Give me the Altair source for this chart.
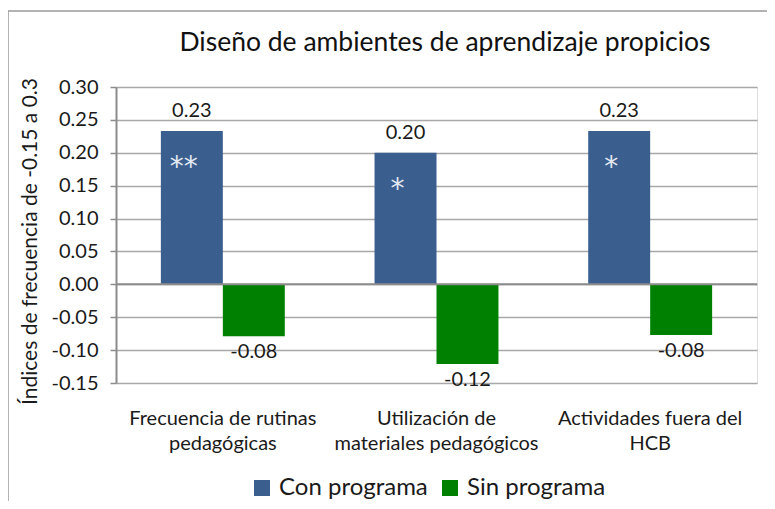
import altair as alt
import pandas as pd

categories = ["Frecuencia de rutinas\npedagógicas",
              "Utilización  de\nmateriales pedagógicos",
              "Actividades fuera del\nHCB"]
series = ["Con programa", "Sin programa"]
con_values = [0.233, 0.200, 0.233]
sin_values = [-0.079, -0.121, -0.077]
con_marks = ["**", "*", "*"]
y_ticks = [-0.15, -0.10, -0.05, 0.00, 0.05, 0.10, 0.15, 0.20, 0.25, 0.30]
colors = ["#3A5F8F", "#008000"]
title_text = "Diseño de ambientes de aprendizaje propicios"

rows = []
for c, v, m in zip(categories, con_values, con_marks):
    rows.append({"cat": c, "series": series[0], "value": v, "mark": m})
for c, v in zip(categories, sin_values):
    rows.append({"cat": c, "series": series[1], "value": v, "mark": ""})
df = pd.DataFrame(rows)

FONT = "Lato"
TXT = "#1a1a1a"
MINUS_FIX = "replace(format(datum.value, '.2f'), '\u2212', '-')"

x_enc = alt.X("cat:N", sort=categories,
              scale=alt.Scale(paddingInner=0.42, paddingOuter=0.21),
              axis=alt.Axis(title=None, labelExpr="split(datum.label, '\\n')",
                            labelAngle=0, domain=False, ticks=False, labelLimit=400,
                            labelFontSize=20, labelPadding=25, labelLineHeight=25,
                            labelColor=TXT, labelFont=FONT))
xo_enc = alt.XOffset("series:N", sort=series,
                     scale=alt.Scale(paddingInner=0, paddingOuter=0))
y_enc = alt.Y("value:Q",
              scale=alt.Scale(domain=[-0.15, 0.30], nice=False, zero=False),
              axis=alt.Axis(values=y_ticks, tickCount=len(y_ticks) + 2, format=".2f",
                            labelExpr="replace(datum.label, '\u2212', '-')",
                            labelOverlap=False, labelFlush=False,
                            title="Índices de frecuencia de -0.15 a 0.3",
                            titleX=-86, titleY=154, titleAngle=270,
                            titleAlign="center", titleBaseline="middle",
                            titleFontSize=21, titleFontWeight="normal",
                            titleFont=FONT, titleColor=TXT,
                            labelFontSize=20, labelFont=FONT, labelColor=TXT,
                            labelPadding=12, tickSize=6, tickColor="#8c8c8c",
                            tickWidth=1.5, domainColor="#8c8c8c", domainWidth=2,
                            grid=True, gridColor="#a8a8a8", gridWidth=1.5))

color_enc = alt.Color("series:N", sort=series,
                      scale=alt.Scale(domain=series, range=colors),
                      legend=alt.Legend(orient="none", legendX=134, legendY=389,
                                        direction="horizontal", title=None,
                                        symbolType="square", symbolSize=256,
                                        symbolStrokeWidth=0, labelFontSize=24,
                                        labelFont=FONT, labelColor=TXT,
                                        columnPadding=10, labelOffset=5))

base = alt.Chart(df)

bars = base.mark_bar().encode(x=x_enc, xOffset=xo_enc, y=y_enc, color=color_enc)

zero = alt.Chart(alt.Data(values=[{}])).mark_rule(color="#8c8c8c", strokeWidth=2).encode(
    y=alt.datum(0))

lab_pos = base.transform_filter(alt.datum.series == series[0]).transform_calculate(
    lbl=MINUS_FIX).mark_text(
    baseline="bottom", dy=-10, fontSize=20, font=FONT, color=TXT).encode(
    x=alt.X("cat:N", sort=categories), xOffset=alt.XOffset("series:N", sort=series),
    y="value:Q", text="lbl:N")

lab_neg = base.transform_filter(alt.datum.series == series[1]).transform_calculate(
    lbl=MINUS_FIX).mark_text(
    baseline="top", dy=6, fontSize=20, font=FONT, color=TXT).encode(
    x=alt.X("cat:N", sort=categories), xOffset=alt.XOffset("series:N", sort=series),
    y="value:Q", text="lbl:N")

stars = base.transform_filter(alt.datum.series == series[0]).mark_text(
    baseline="top", dy=23, dx=-8, fontSize=28, font="DejaVu Sans",
    color="#e4e9f2").encode(
    x=alt.X("cat:N", sort=categories), xOffset=alt.XOffset("series:N", sort=series),
    y="value:Q", text="mark:N")

one = alt.Data(values=[{}])
frame_left = alt.Chart(one).mark_rule(color="#9a9a9a", strokeWidth=1.5).encode(
    x=alt.value(-108), y=alt.value(-76), y2=alt.value(414))
frame_top = alt.Chart(one).mark_rule(color="#9a9a9a", strokeWidth=1.5).encode(
    x=alt.value(-108), x2=alt.value(651), y=alt.value(-76))
title = alt.Chart(one).mark_text(fontSize=26.5, font=FONT, color="#111",
                                 align="center", baseline="alphabetic").encode(
    x=alt.value(329), y=alt.value(-36), text=alt.value(title_text))

chart = alt.layer(bars, zero, lab_pos, lab_neg, stars, frame_left, frame_top, title).properties(
    width=641, height=296,
    autosize=alt.AutoSizeParams(type="none"),
    padding={"left": 108, "top": 79, "right": 10, "bottom": 118},
).configure_view(stroke=None).configure(background="white")

chart.save("out.html", embed_options={"renderer": "svg", "actions": False})
